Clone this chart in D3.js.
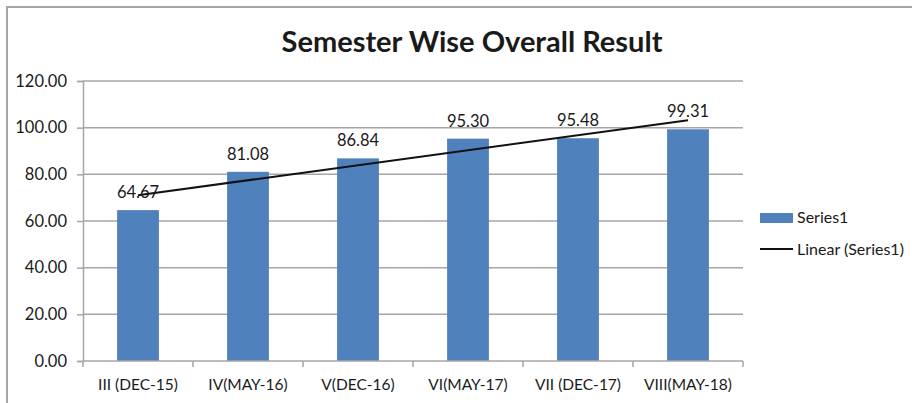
<!DOCTYPE html>
<html>
<head>
<meta charset="utf-8">
<title>Semester Wise Overall Result</title>
<script src="https://cdn.jsdelivr.net/npm/d3@7"></script>
<style>
  body { margin: 0; background: #fff; }
  svg { display: block; font-family: Lato, "Open Sans", sans-serif; }
</style>
</head>
<body>
<script>
// chart data
const semesters = ["III (DEC-15)", "IV(MAY-16)", "V(DEC-16)", "VI(MAY-17)", "VII (DEC-17)", "VIII(MAY-18)"];
const results = [64.67, 81.08, 86.84, 95.30, 95.48, 99.31];
const yTicks = [0, 20, 40, 60, 80, 100, 120];
const seriesName = "Series1";
const trendName = "Linear (Series1)";

const width = 912;
const height = 403;
const marginTop = 81;
const marginLeft = 83;
const plotRight = 743;
const plotBottom = 361;
const txt = "#1a1a1a";
const grid = "#a6a6a6";

const svg = d3.select("body").append("svg")
    .attr("width", width)
    .attr("height", height);

// outer chart frame (cut at right / bottom)
svg.append("path")
    .attr("d", `M7,${height + 2}V7H${width + 2}`)
    .attr("fill", "none")
    .attr("stroke", grid)
    .attr("stroke-width", 2);

svg.append("text")
    .attr("x", 472)
    .attr("y", 52)
    .attr("text-anchor", "middle")
    .attr("font-size", 29)
    .attr("font-weight", "bold")
    .attr("fill", txt)
    .text("Semester Wise Overall Result");

const x = d3.scaleBand()
    .domain(semesters)
    .range([marginLeft, plotRight])
    .paddingInner(0.62)
    .paddingOuter(0.31);

const y = d3.scaleLinear()
    .domain([0, 120])
    .range([plotBottom, marginTop]);

// gridlines
svg.append("g")
  .selectAll("line")
  .data(yTicks.filter(d => d > 0))
  .join("line")
    .attr("x1", marginLeft)
    .attr("x2", plotRight)
    .attr("y1", d => y(d))
    .attr("y2", d => y(d))
    .attr("stroke", grid)
    .attr("stroke-width", 1.5);

// y axis
const yAxis = svg.append("g")
    .attr("transform", `translate(${marginLeft},0)`)
    .call(d3.axisLeft(y).tickValues(yTicks).tickFormat(d3.format(".2f")).tickSize(6).tickPadding(10));
yAxis.selectAll("line, path").attr("stroke", grid).attr("stroke-width", 1.5);
yAxis.selectAll("text").attr("font-size", 16.5).attr("fill", txt).attr("font-family", "Lato, sans-serif");

// bars
svg.append("g")
  .selectAll("rect")
  .data(results)
  .join("rect")
    .attr("x", (d, i) => x(semesters[i]))
    .attr("y", d => y(d))
    .attr("width", x.bandwidth())
    .attr("height", d => y(0) - y(d))
    .attr("fill", "#4f81bd");

// x axis with ticks at category boundaries
const bounds = d3.range(semesters.length + 1).map(i => marginLeft + i * (plotRight - marginLeft) / semesters.length);
const xg = svg.append("g");
xg.append("line")
    .attr("x1", marginLeft).attr("x2", plotRight)
    .attr("y1", plotBottom).attr("y2", plotBottom)
    .attr("stroke", grid).attr("stroke-width", 1.5);
xg.selectAll("line.tick")
  .data(bounds)
  .join("line")
    .attr("class", "tick")
    .attr("x1", d => d).attr("x2", d => d)
    .attr("y1", plotBottom).attr("y2", plotBottom + 6)
    .attr("stroke", grid).attr("stroke-width", 1.5);
xg.selectAll("text")
  .data(semesters)
  .join("text")
    .attr("x", d => x(d) + x.bandwidth() / 2)
    .attr("y", 390)
    .attr("text-anchor", "middle")
    .attr("font-size", 15.5)
    .attr("fill", txt)
    .text(d => d);

// linear trendline (least squares over category index)
const xs = results.map((d, i) => i + 1);
const mx = d3.mean(xs), my = d3.mean(results);
const slope = d3.sum(xs, (v, i) => (v - mx) * (results[i] - my)) / d3.sum(xs, v => (v - mx) ** 2);
const icpt = my - slope * mx;
const cx = i => x(semesters[i]) + x.bandwidth() / 2;
svg.append("line")
    .attr("x1", cx(0))
    .attr("y1", y(icpt + slope * 1))
    .attr("x2", cx(semesters.length - 1))
    .attr("y2", y(icpt + slope * semesters.length))
    .attr("stroke", "#111")
    .attr("stroke-width", 2);

// value labels
svg.append("g")
  .selectAll("text")
  .data(results)
  .join("text")
    .attr("x", (d, i) => cx(i))
    .attr("y", d => y(d) - 12)
    .attr("text-anchor", "middle")
    .attr("font-size", 16.5)
    .attr("fill", txt)
    .text(d => d.toFixed(2));

// legend
const legend = svg.append("g").attr("transform", "translate(760,0)");
legend.append("rect")
    .attr("x", 0).attr("y", 213)
    .attr("width", 33).attr("height", 10)
    .attr("fill", "#4f81bd");
legend.append("text")
    .attr("x", 37).attr("y", 223)
    .attr("font-size", 16).attr("fill", txt)
    .text(seriesName);
legend.append("line")
    .attr("x1", 0).attr("x2", 33)
    .attr("y1", 249).attr("y2", 249)
    .attr("stroke", "#111").attr("stroke-width", 2);
legend.append("text")
    .attr("x", 37).attr("y", 255)
    .attr("font-size", 16).attr("fill", txt)
    .text(trendName);
</script>
</body>
</html>
